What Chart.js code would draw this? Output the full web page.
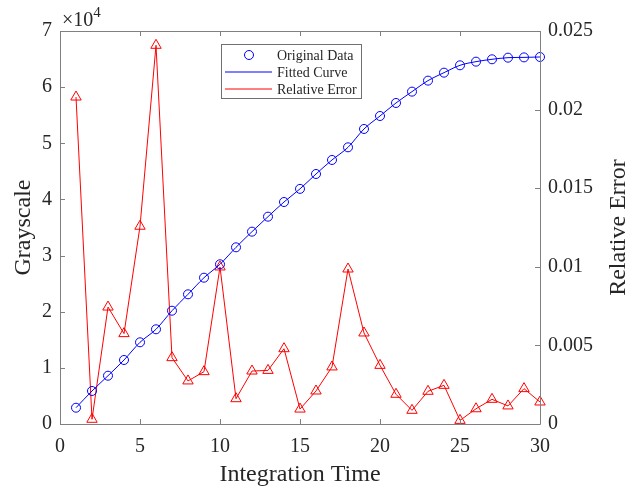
<!DOCTYPE html>
<html>
<head>
<meta charset="utf-8">
<title>Grayscale vs Integration Time</title>
<script src="https://cdn.jsdelivr.net/npm/chart.js@4.4.1/dist/chart.umd.min.js"></script>
<style>
  body { margin: 0; background: #fff; }
  #wrap { width: 642px; height: 489px; }
</style>
</head>
<body>
<div id="wrap"><canvas id="chart" width="642" height="489"></canvas></div>
<script>
var integrationTime = [1, 2, 3, 4, 5, 6, 7, 8, 9, 10, 11, 12, 13, 14, 15,
  16, 17, 18, 19, 20, 21, 22, 23, 24, 25, 26, 27, 28, 29, 30];

var grayscale = [2900, 5880, 8600, 11400, 14550, 16870, 20180, 23100, 26060, 28450,
  31470, 34260, 36930, 39540, 41880, 44530, 47030, 49280, 52550, 54860,
  57180, 59200, 61160, 62580, 63890, 64540, 64960, 65250, 65300, 65370];

var relativeError = [0.0208, 0.0003, 0.00744, 0.00575, 0.01258, 0.02409, 0.00422, 0.00274, 0.00333, 0.00999,
  0.00161, 0.00337, 0.00341, 0.00479, 0.00095, 0.0021, 0.00363, 0.00986, 0.00579, 0.00373,
  0.00189, 0.00087, 0.00208, 0.00246, 0.00023, 0.00097, 0.00157, 0.00115, 0.00225, 0.0014];

var xTicks = [0, 5, 10, 15, 20, 25, 30];
var grayTicks = [0, 10000, 20000, 30000, 40000, 50000, 60000, 70000];
var errorTicks = [0, 0.005, 0.01, 0.015, 0.02, 0.025];

var seriesLabels = ['Original Data', 'Fitted Curve', 'Relative Error'];

var serif = "'Liberation Serif', 'Times New Roman', serif";
var axisColor = '#808080';
var textColor = '#262626';
var blue = '#0000ff';
var red = '#ff0000';

Chart.defaults.font.family = serif;
Chart.defaults.color = textColor;

function points(ys) {
  return integrationTime.map(function (t, i) { return { x: t, y: ys[i] }; });
}

function fixedTicks(values) {
  return function (scale) {
    scale.ticks = values.map(function (v) { return { value: v }; });
  };
}

// box, inward tick marks, axis titles, exponent and legend (MATLAB look)
var frame = {
  id: 'frame',
  afterDraw: function (chart) {
    var ctx = chart.ctx, a = chart.chartArea;
    var sx = chart.scales.x, sy = chart.scales.y, sy1 = chart.scales.y1;
    var tick = 5;
    ctx.save();
    ctx.strokeStyle = axisColor;
    ctx.lineWidth = 1;
    ctx.beginPath();
    ctx.rect(a.left + 0.5, a.top + 0.5, a.right - a.left, a.bottom - a.top);
    xTicks.forEach(function (v) {
      var px = Math.round(sx.getPixelForValue(v)) + 0.5;
      ctx.moveTo(px, a.bottom); ctx.lineTo(px, a.bottom - tick);
      ctx.moveTo(px, a.top); ctx.lineTo(px, a.top + tick);
    });
    grayTicks.forEach(function (v) {
      var py = Math.round(sy.getPixelForValue(v)) + 0.5;
      ctx.moveTo(a.left, py); ctx.lineTo(a.left + tick, py);
    });
    errorTicks.forEach(function (v) {
      var py = Math.round(sy1.getPixelForValue(v)) + 0.5;
      ctx.moveTo(a.right, py); ctx.lineTo(a.right - tick, py);
    });
    ctx.stroke();

    // axis titles
    ctx.fillStyle = textColor;
    ctx.font = '24px ' + serif;
    ctx.textAlign = 'center';
    ctx.textBaseline = 'alphabetic';
    ctx.fillText('Integration Time', (a.left + a.right) / 2, 481);
    ctx.save();
    ctx.translate(30, (a.top + a.bottom) / 2);
    ctx.rotate(-Math.PI / 2);
    ctx.fillText('Grayscale', 0, 0);
    ctx.restore();
    ctx.save();
    ctx.translate(625, (a.top + a.bottom) / 2);
    ctx.rotate(-Math.PI / 2);
    ctx.fillText('Relative Error', 0, 0);
    ctx.restore();

    // exponent of the left axis
    ctx.textAlign = 'left';
    ctx.font = '20px ' + serif;
    ctx.fillText('\u00d710', 62, 26);
    var w = ctx.measureText('\u00d710').width;
    ctx.font = '15px ' + serif;
    ctx.fillText('4', 62 + w, 17);

    // legend
    var lx = 221, ly = 44, lw = 140, lh = 54;
    ctx.fillStyle = '#ffffff';
    ctx.fillRect(lx, ly, lw, lh);
    ctx.strokeStyle = '#707070';
    ctx.strokeRect(lx + 0.5, ly + 0.5, lw, lh);
    ctx.font = '14px ' + serif;
    ctx.textBaseline = 'middle';
    chart.data.datasets.forEach(function (ds, i) {
      var ry = ly + 11 + i * 17;
      ctx.strokeStyle = ds.borderColor;
      ctx.lineWidth = 1;
      ctx.beginPath();
      if (ds.showLine === false) {
        ctx.arc(lx + 28, ry, 4.5, 0, Math.PI * 2);
      } else {
        ctx.moveTo(lx + 4, ry); ctx.lineTo(lx + 51, ry);
      }
      ctx.stroke();
      ctx.fillStyle = textColor;
      ctx.fillText(ds.label, lx + 56, ry + 1);
    });
    ctx.restore();
  }
};

var ctx = document.getElementById('chart').getContext('2d');
new Chart(ctx, {
  type: 'line',
  data: {
    datasets: [{
      label: seriesLabels[0],
      data: points(grayscale),
      yAxisID: 'y',
      showLine: false,
      pointStyle: 'circle',
      pointRadius: 4.5,
      pointBorderWidth: 1,
      pointBorderColor: blue,
      pointBackgroundColor: 'rgba(0,0,0,0)',
      borderColor: blue,
      clip: false
    }, {
      label: seriesLabels[1],
      data: points(grayscale),
      yAxisID: 'y',
      borderColor: blue,
      borderWidth: 1,
      pointRadius: 0,
      cubicInterpolationMode: 'monotone',
      clip: false
    }, {
      label: seriesLabels[2],
      data: points(relativeError),
      yAxisID: 'y1',
      borderColor: red,
      borderWidth: 1,
      pointStyle: 'triangle',
      pointRadius: 6,
      pointBorderWidth: 1,
      pointBorderColor: red,
      pointBackgroundColor: 'rgba(0,0,0,0)',
      clip: false
    }]
  },
  options: {
    responsive: false,
    animation: false,
    devicePixelRatio: 1,
    layout: { padding: { top: 31, left: 0, right: 0, bottom: 0 } },
    plugins: {
      legend: { display: false },
      tooltip: { enabled: false }
    },
    scales: {
      x: {
        type: 'linear',
        min: 0,
        max: 30,
        afterBuildTicks: fixedTicks(xTicks),
        afterFit: function (s) { s.height = 65; },
        grid: { display: false, drawTicks: false },
        border: { display: false },
        ticks: { padding: 11, font: { size: 20 }, color: textColor }
      },
      y: {
        position: 'left',
        min: 0,
        max: 70000,
        afterBuildTicks: fixedTicks(grayTicks),
        afterFit: function (s) { s.width = 60; },
        grid: { display: false, drawTicks: false },
        border: { display: false },
        ticks: {
          padding: 8,
          font: { size: 20 },
          color: textColor,
          callback: function (v) { return String(v / 10000); }
        }
      },
      y1: {
        position: 'right',
        min: 0,
        max: 0.025,
        afterBuildTicks: fixedTicks(errorTicks),
        afterFit: function (s) { s.width = 102; },
        grid: { display: false, drawTicks: false },
        border: { display: false },
        ticks: {
          padding: 8,
          font: { size: 20 },
          color: textColor,
          callback: function (v) { return String(Number(v.toFixed(3))); }
        }
      }
    }
  },
  plugins: [frame]
});
</script>
</body>
</html>
